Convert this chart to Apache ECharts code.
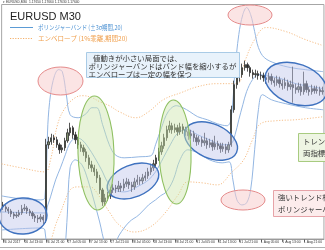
<!DOCTYPE html>
<html><head><meta charset="utf-8">
<script src="https://cdn.jsdelivr.net/npm/echarts/dist/echarts.min.js"></script>
<style>html,body{margin:0;padding:0;background:#fff}#c{width:325px;height:250px}</style>
</head><body><div id="c"></div><script>
const tickLabels = ['26 Jul 2017','26 Jul 13:00','26 Jul 21:00','27 Jul 05:00','27 Jul 13:00','27 Jul 21:00','28 Jul 05:00','28 Jul 13:00','28 Jul 21:00','31 Jul 05:00','31 Jul 13:00','31 Jul 21:00','1 Aug 05:00','1 Aug 13:00','1 Aug 21:00'];
const barsPerLabel = 8;
const openP = [
1.1650,1.1648,1.1646,1.1644,1.1641,1.1639,1.1640,1.1642,1.1646,1.1647,
1.1644,1.1642,1.1639,1.1637,1.1636,1.1638,1.1635,1.1710,1.1713,1.1717,
1.1715,1.1710,1.1705,1.1707,1.1714,1.1722,1.1727,1.1720,1.1715,1.1710,
1.1707,1.1703,1.1697,1.1690,1.1687,1.1683,1.1677,1.1665,1.1653,1.1657,
1.1659,1.1665,1.1667,1.1666,1.1669,1.1667,1.1671,1.1673,1.1670,1.1668,
1.1673,1.1675,1.1674,1.1677,1.1679,1.1683,1.1687,1.1691,1.1697,1.1703,
1.1709,1.1717,1.1725,1.1729,1.1725,1.1727,1.1723,1.1728,1.1725,1.1723,
1.1719,1.1721,1.1717,1.1713,1.1715,1.1712,1.1714,1.1710,1.1712,1.1708,
1.1711,1.1709,1.1706,1.1708,1.1705,1.1710,1.1745,1.1770,1.1777,1.1780,
1.1787,1.1790,1.1787,1.1782,1.1780,1.1781,1.1779,1.1779,1.1777,1.1775,
1.1778,1.1774,1.1772,1.1775,1.1771,1.1769,1.1772,1.1768,1.1770,1.1767,
1.1765,1.1768,1.1763,1.1771,1.1765,1.1763,1.1766,1.1764,1.1765,1.1763];
const closeP = [
1.1648,1.1646,1.1644,1.1641,1.1639,1.1640,1.1642,1.1646,1.1647,1.1644,
1.1642,1.1639,1.1637,1.1636,1.1638,1.1635,1.1710,1.1713,1.1717,1.1715,
1.1710,1.1705,1.1707,1.1714,1.1722,1.1727,1.1720,1.1715,1.1710,1.1707,
1.1703,1.1697,1.1690,1.1687,1.1683,1.1677,1.1665,1.1653,1.1657,1.1659,
1.1665,1.1667,1.1666,1.1669,1.1667,1.1671,1.1673,1.1670,1.1668,1.1673,
1.1675,1.1674,1.1677,1.1679,1.1683,1.1687,1.1691,1.1697,1.1703,1.1709,
1.1717,1.1725,1.1729,1.1725,1.1727,1.1723,1.1728,1.1725,1.1723,1.1719,
1.1721,1.1717,1.1713,1.1715,1.1712,1.1714,1.1710,1.1712,1.1708,1.1711,
1.1709,1.1706,1.1708,1.1705,1.1710,1.1745,1.1770,1.1777,1.1780,1.1787,
1.1790,1.1787,1.1782,1.1780,1.1781,1.1779,1.1779,1.1777,1.1775,1.1778,
1.1774,1.1772,1.1775,1.1771,1.1769,1.1772,1.1768,1.1770,1.1767,1.1765,
1.1768,1.1763,1.1771,1.1765,1.1763,1.1766,1.1764,1.1765,1.1763,1.1764];
const highP = [
1.1653,1.1650,1.1648,1.1646,1.1643,1.1643,1.1645,1.1650,1.1651,1.1649,
1.1646,1.1644,1.1641,1.1640,1.1641,1.1640,1.1716,1.1718,1.1721,1.1720,
1.1718,1.1712,1.1710,1.1717,1.1726,1.1732,1.1729,1.1723,1.1718,1.1713,
1.1710,1.1706,1.1700,1.1694,1.1690,1.1686,1.1680,1.1667,1.1661,1.1663,
1.1668,1.1671,1.1670,1.1674,1.1672,1.1676,1.1677,1.1676,1.1673,1.1677,
1.1680,1.1678,1.1681,1.1683,1.1687,1.1691,1.1695,1.1700,1.1707,1.1713,
1.1721,1.1729,1.1734,1.1732,1.1731,1.1730,1.1732,1.1731,1.1728,1.1726,
1.1725,1.1724,1.1720,1.1719,1.1718,1.1722,1.1717,1.1716,1.1715,1.1719,
1.1714,1.1712,1.1712,1.1711,1.1713,1.1749,1.1774,1.1781,1.1784,1.1791,
1.1794,1.1792,1.1789,1.1785,1.1785,1.1784,1.1783,1.1782,1.1780,1.1782,
1.1781,1.1777,1.1779,1.1778,1.1775,1.1777,1.1775,1.1774,1.1788,1.1771,
1.1772,1.1771,1.1783,1.1774,1.1768,1.1770,1.1769,1.1769,1.1768,1.1768];
const lowP = [
1.1645,1.1643,1.1641,1.1638,1.1636,1.1637,1.1638,1.1640,1.1644,1.1641,
1.1639,1.1636,1.1633,1.1632,1.1633,1.1631,1.1632,1.1706,1.1710,1.1712,
1.1707,1.1701,1.1702,1.1704,1.1712,1.1719,1.1716,1.1711,1.1706,1.1703,
1.1699,1.1693,1.1686,1.1683,1.1679,1.1672,1.1661,1.1649,1.1650,1.1654,
1.1656,1.1662,1.1662,1.1663,1.1663,1.1664,1.1668,1.1666,1.1663,1.1665,
1.1670,1.1670,1.1671,1.1674,1.1676,1.1680,1.1684,1.1688,1.1694,1.1700,
1.1706,1.1714,1.1722,1.1721,1.1722,1.1719,1.1720,1.1721,1.1719,1.1715,
1.1716,1.1713,1.1709,1.1710,1.1708,1.1709,1.1706,1.1707,1.1704,1.1705,
1.1705,1.1702,1.1703,1.1701,1.1702,1.1708,1.1742,1.1766,1.1773,1.1777,
1.1784,1.1783,1.1778,1.1776,1.1777,1.1775,1.1775,1.1773,1.1771,1.1772,
1.1770,1.1768,1.1769,1.1767,1.1765,1.1766,1.1764,1.1765,1.1752,1.1761,
1.1762,1.1759,1.1760,1.1762,1.1759,1.1760,1.1761,1.1761,1.1759,1.1760];
// Bollinger bands (±3σ, 20) — [bar, price]
const bbUpper = [[-0.5,1.1659],[6.8,1.1656],[14.1,1.1655],[15.6,1.1657],[16.7,1.1730],[17.7,1.1760],[19.2,1.1779],[20.7,1.1785],[22.1,1.1783],[23.6,1.1760],[25.0,1.1740],[28.0,1.1737],[30.9,1.1741],[33.1,1.1747],[34.9,1.1747],[37.1,1.1730],[39.6,1.1710],[41.8,1.1700],[45.1,1.1697],[50.6,1.1698],[55.0,1.1699],[56.8,1.1710],[59.0,1.1727],[61.5,1.1743],[64.5,1.1749],[67.0,1.1747],[69.6,1.1743],[72.5,1.1738],[76.1,1.1735],[79.8,1.1731],[83.4,1.1729],[84.9,1.1735],[86.4,1.1785],[87.8,1.1820],[89.3,1.1840],[90.7,1.1847],[92.2,1.1840],[93.7,1.1823],[95.1,1.1807],[97.3,1.1797],[101.7,1.1791],[107.2,1.1787],[112.6,1.1785],[119.2,1.1783]];
const bbMiddle = [[-0.5,1.1643],[15.6,1.1642],[16.7,1.1650],[17.7,1.1658],[19.6,1.1675],[21.4,1.1687],[23.2,1.1700],[25.0,1.1712],[27.2,1.1717],[29.4,1.1715],[31.6,1.1708],[34.2,1.1697],[36.7,1.1685],[38.9,1.1673],[41.5,1.1665],[45.1,1.1663],[50.6,1.1669],[54.2,1.1675],[56.8,1.1683],[59.7,1.1697],[62.3,1.1710],[65.2,1.1722],[68.8,1.1725],[72.5,1.1720],[76.9,1.1715],[81.6,1.1710],[84.9,1.1711],[86.4,1.1720],[87.8,1.1735],[89.3,1.1750],[90.7,1.1763],[92.9,1.1775],[95.1,1.1780],[98.0,1.1779],[103.5,1.1776],[109.0,1.1771],[119.2,1.1766]];
const bbLower = [[-0.5,1.1625],[14.1,1.1627],[15.6,1.1625],[16.3,1.1593],[17.7,1.1555],[20.7,1.1555],[22.1,1.1587],[23.2,1.1610],[23.95,1.1640],[25.0,1.1687],[26.9,1.1695],[29.4,1.1690],[31.6,1.1675],[33.8,1.1655],[36.0,1.1633],[38.2,1.1610],[40.4,1.1605],[43.3,1.1620],[47.0,1.1633],[50.6,1.1640],[54.2,1.1650],[56.8,1.1655],[58.6,1.1659],[60.8,1.1663],[63.4,1.1675],[65.9,1.1695],[68.8,1.1705],[72.5,1.1702],[76.9,1.1695],[81.6,1.1692],[84.2,1.1693],[85.6,1.1675],[87.1,1.1655],[88.9,1.1650],[90.7,1.1652],[92.2,1.1665],[93.7,1.1705],[95.1,1.1745],[96.6,1.1760],[99.9,1.1755],[105.3,1.1751],[112.6,1.1747],[119.2,1.1745]];
// Envelope (1%, 20)
const envUpper = [[-0.5,1.1691],[6.8,1.1687],[15.6,1.1683],[17.7,1.1695],[20.3,1.1730],[23.2,1.1747],[26.9,1.1757],[29.8,1.1759],[33.1,1.1757],[36.0,1.1753],[39.6,1.1749],[43.3,1.1743],[49.5,1.1737],[54.2,1.1743],[59.7,1.1755],[66.3,1.1762],[72.5,1.1768],[79.8,1.1771],[87.1,1.1771],[90.0,1.1793],[93.7,1.1815],[98.0,1.1827],[105.3,1.1823],[112.6,1.1815],[119.2,1.1809]];
const envLower = [[17.0,1.1605],[19.6,1.1630],[21.4,1.1642],[23.2,1.1655],[25.0,1.1665],[27.6,1.1668],[32.3,1.1668],[36.0,1.1658],[39.6,1.1643],[43.3,1.1630],[48.8,1.1623],[54.2,1.1627],[59.7,1.1640],[65.2,1.1660],[68.8,1.1673],[74.3,1.1672],[79.8,1.1670],[85.3,1.1683],[89.6,1.1695],[92.9,1.1715],[95.9,1.1731],[101.7,1.1734],[109.0,1.1735],[119.2,1.1738]];

const nBars = closeP.length;
const cats = closeP.map((_, i) => String(i));
const candles = closeP.map((c, i) => [openP[i], c, lowP[i], highP[i]]);
const barW = 2.74;

const chart = echarts.init(document.getElementById('c'), null, {renderer: 'canvas'});
const JP = '"Noto Sans CJK JP", sans-serif';
const BBC = '#93b6e2', ENVC = '#f5bf8a';
function ell(cx, cy, rx, ry, rot, stroke, fill, lw) {
  return {type: 'ellipse', x: cx, y: cy, rotation: rot, z: 50,
    shape: {cx: 0, cy: 0, rx: rx, ry: ry},
    style: {fill: fill, stroke: stroke, lineWidth: lw}};
}
function txt(x, y, s, size, color, fam, sx) {
  return {type: 'text', x: x, y: y, z: 60, scaleX: sx || 1,
    style: {text: s, fontSize: size, fontFamily: fam || JP, fill: color, verticalAlign: 'middle'}};
}
const blueS = '#3f72bf', blueF = 'rgba(190,198,236,0.45)';
const greenS = '#8fc062', greenF = 'rgba(205,228,170,0.45)';
const redS = '#e58b8b', redF = 'rgba(248,206,206,0.55)';

chart.setOption({
  animation: false,
  backgroundColor: '#ffffff',
  grid: {left: 0.5, top: 4.5, width: nBars * barW, height: 234.5, show: true, borderColor: '#a6a6a6', borderWidth: 1, containLabel: false},
  xAxis: [{
    type: 'category', data: cats, boundaryGap: true,
    axisLine: {show: true, lineStyle: {color: '#9a9a9a', width: 1}},
    axisTick: {show: true, alignWithLabel: true, length: 3, interval: (i) => i % barsPerLabel === 0, lineStyle: {color: '#777'}},
    axisLabel: {show: true, interval: (i) => i % barsPerLabel === 0, align: 'left', margin: 2, fontSize: 3.4, color: '#333', fontFamily: 'Liberation Sans',
      formatter: (v, i) => tickLabels[Math.round(i / barsPerLabel)] || ''},
    splitLine: {show: false}
  }, {
    type: 'value', min: -0.5, max: nBars - 0.5, show: false
  }],
  yAxis: {type: 'value', min: 1.1616, max: 1.1850, show: false, scale: true, splitLine: {show: false}},
  series: [
    {type: 'line', xAxisIndex: 1, data: envUpper, smooth: 0.4, symbol: 'none', lineStyle: {color: ENVC, width: 1, type: [1.2, 1.6]}, z: 2},
    {type: 'line', xAxisIndex: 1, data: envLower, smooth: 0.4, symbol: 'none', lineStyle: {color: ENVC, width: 1, type: [1.2, 1.6]}, z: 2},
    {type: 'line', xAxisIndex: 1, data: bbUpper, smooth: 0.35, symbol: 'none', lineStyle: {color: BBC, width: 1}, z: 3},
    {type: 'line', xAxisIndex: 1, data: bbMiddle, smooth: 0.35, symbol: 'none', lineStyle: {color: BBC, width: 1}, z: 3},
    {type: 'line', xAxisIndex: 1, data: bbLower, smooth: 0.35, symbol: 'none', lineStyle: {color: BBC, width: 1}, z: 3},
    {type: 'candlestick', xAxisIndex: 0, data: candles, barWidth: 1.8, z: 5,
      itemStyle: {color: '#7f8f6c', color0: '#2b2b2b', borderColor: '#2b2b2b', borderColor0: '#2b2b2b', borderWidth: 0.8}}
  ],
  graphic: [
    txt(3, 1.6, '▾ EURUSD,M30  1.17650 1.17660 1.17630 1.17640', 3.3, '#333', 'Liberation Sans'),
    txt(10, 17, 'EURUSD M30', 11, '#1e1e1e', 'Liberation Sans'),
    {type: 'line', z: 60, shape: {x1: 10, y1: 27.5, x2: 33, y2: 27.5}, style: {stroke: '#5b9bd5', lineWidth: 1}},
    txt(38, 27.5, 'ボリンジャーバンド (±3σ期間,20)', 6.5, '#4a90d2', null, 0.84),
    {type: 'line', z: 60, shape: {x1: 10, y1: 38.5, x2: 33, y2: 38.5}, style: {stroke: '#f5b06a', lineWidth: 1, lineDash: [1.2, 1.4]}},
    txt(38, 38.5, 'エンベロープ (1%乖離,期間20)', 6.5, '#f0a04e'),
    // ellipses
    ell(23, 216, 24, 18, 0.05, blueS, blueF, 1.4),
    ell(133, 181, 27, 16, 0.38, blueS, blueF, 1.4),
    ell(211, 141, 28, 17, -0.42, blueS, blueF, 1.4),
    ell(296, 84, 32, 20, -0.35, blueS, blueF, 1.4),
    ell(96, 153, 18, 57, 0.03, greenS, greenF, 1.1),
    ell(175, 152, 16, 52, 0.03, greenS, greenF, 1.1),
    ell(60.5, 81, 22.5, 14, 0, redS, redF, 1),
    ell(250, 15, 22, 10, 0, redS, redF, 1),
    ell(243, 200, 22, 10, 0, redS, redF, 1),
    // annotation boxes
    {type: 'rect', z: 55, shape: {x: 86.5, y: 52.5, width: 153, height: 25}, style: {fill: '#e8f2fb', stroke: '#a9cbe6', lineWidth: 1}},
    txt(93, 58.5, '値動きが小さい局面では、', 7.4, '#333'),
    txt(88.5, 66.5, 'ボリンジャーバンドはバンド幅を縮小するが', 7.4, '#333'),
    txt(88.5, 74.5, 'エンベロープは一定の幅を保つ', 7.4, '#333'),
    {type: 'rect', z: 55, shape: {x: 298.5, y: 133.5, width: 60, height: 28}, style: {fill: '#eef5e3', stroke: '#a8cb80', lineWidth: 1}},
    txt(303, 141, 'トレンド発生時は', 7.4, '#333'),
    txt(303, 153, '両指標とも同方向', 7.4, '#333'),
    {type: 'rect', z: 55, shape: {x: 273.5, y: 190.5, width: 80, height: 26}, style: {fill: '#fcecec', stroke: '#e6a3a8', lineWidth: 1}},
    txt(278, 197.5, '強いトレンド相場では', 7.4, '#333'),
    txt(278, 209.5, 'ボリンジャーバンドが拡大', 7.4, '#333'),
    {type: 'line', z: 60, shape: {x1: 0, y1: 247.5, x2: 325, y2: 247.5}, style: {stroke: '#b0b0b0', lineWidth: 1}}
  ]
});
</script></body></html>
